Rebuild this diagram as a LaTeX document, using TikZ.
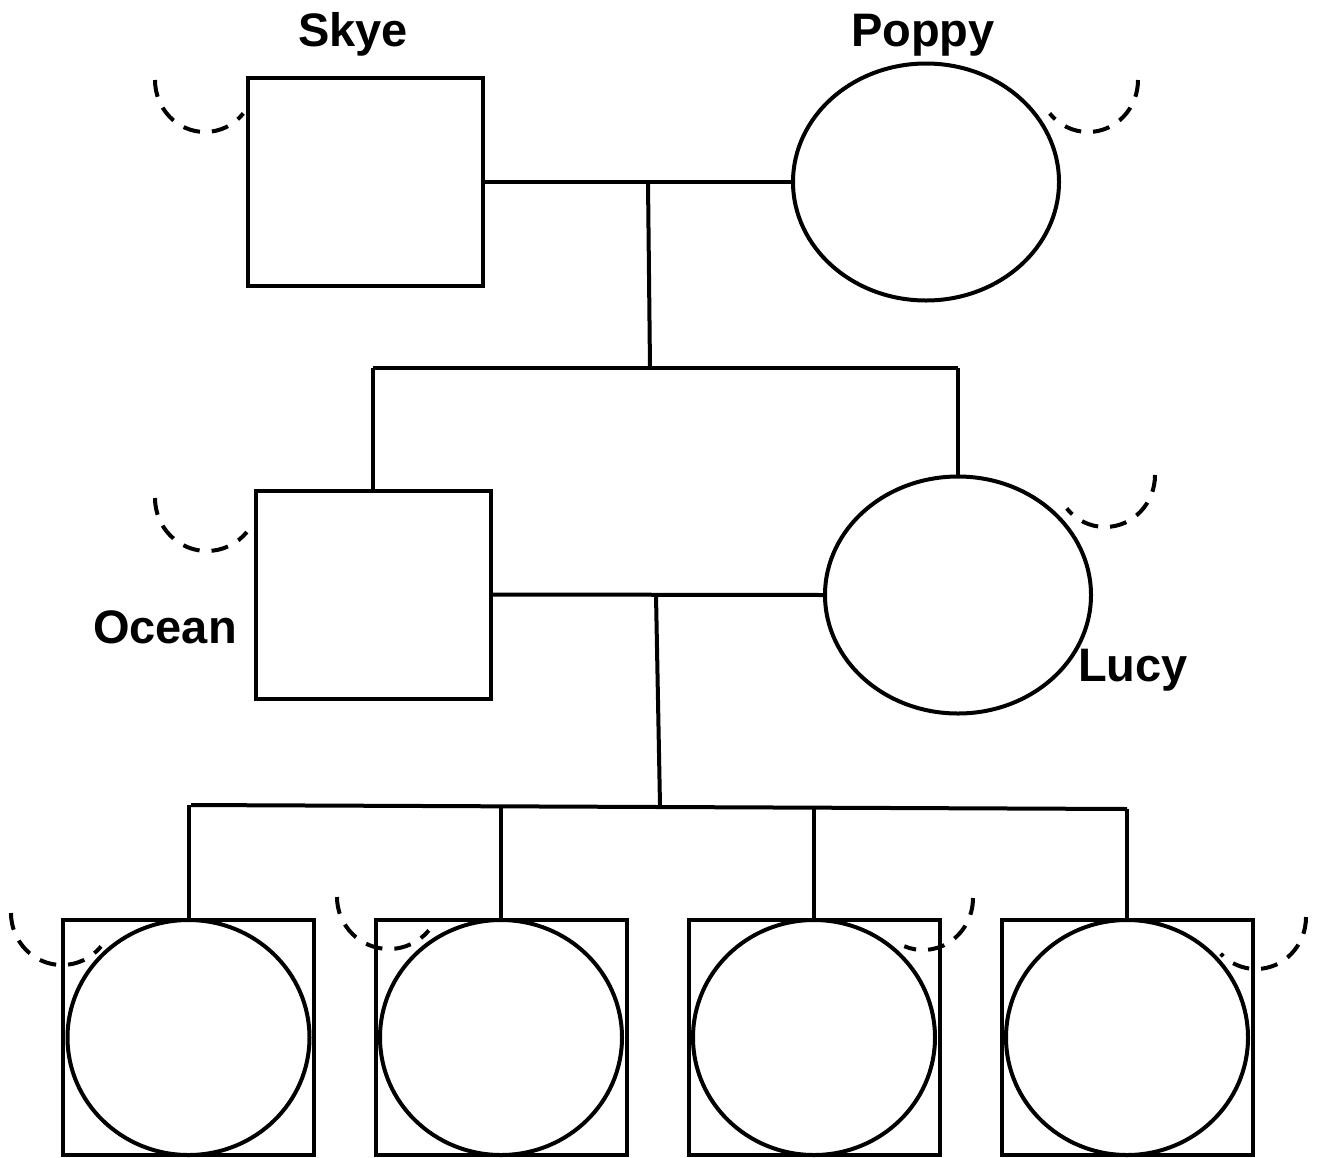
\documentclass[tikz,border=0pt]{standalone}
\usepackage{fontspec}
\setmainfont{Liberation Sans}
\usetikzlibrary{shapes.geometric}
\begin{document}
\begin{tikzpicture}[x=0.5pt,y=-0.5pt,line width=2pt,
  male/.style={draw,rectangle,inner sep=0pt,outer sep=0pt,minimum width=117.5pt,minimum height=104pt},
  female/.style={draw,ellipse,inner sep=0pt,outer sep=0pt,minimum width=133pt,minimum height=118.5pt},
  childbox/.style={draw,rectangle,inner sep=0pt,outer sep=0pt,minimum width=125.5pt,minimum height=117.5pt},
  childcirc/.style={draw,ellipse,inner sep=0pt,outer sep=0pt,minimum width=121pt,minimum height=117.5pt},
  lbl/.style={font=\fontsize{23.5}{28}\selectfont\bfseries,inner sep=0pt,anchor=base},
  rel/.style={line width=2pt,dash pattern=on 8.5pt off 6pt}]
\useasboundingbox (0,0) rectangle (1317,1157);
% generation 1
\node[male] (skye) at (365.5,182) {};
\node[female] (poppy) at (926,182) {};
\node[lbl] (skyeL) at (353,46) {Skye};
\node[lbl] (poppyL) at (923,46) {Poppy};
\draw (skye.east) -- (poppy.west);
\coordinate (m1) at (648,182);
\coordinate (d1) at (650,368);
\draw (m1) -- (d1);
% generation 2
\node[male] (ocean) at (373,594.5) {};
\node[female] (lucy) at (958,595) {};
\node[lbl] (oceanL) at (165,643) {Ocean};
\node[lbl] (lucyL) at (1133,681) {Lucy};
\coordinate (s1l) at (ocean.north |- d1);
\coordinate (s1r) at (lucy.north |- d1);
\draw (s1l) -- (s1r);
\draw (s1l) -- (ocean.north);
\draw (s1r) -- (lucy.north);
\draw (ocean.east) -- (lucy.west);
\coordinate (m2) at (656,595);
\coordinate (d2) at (660,806);
\draw (m2) -- (d2);
% generation 3
\foreach \i/\x in {1/188.5,2/501,3/814,4/1127}{
  \node[childbox] (cb\i) at (\x,1037.5) {};
  \node[childcirc] (cc\i) at (\x,1037.5) {};
}
\coordinate (s2l) at (191,805);
\coordinate (s2r) at (1127,809);
\draw (s2l) -- (s2r);
\draw (cb1.north |- s2l) -- (cb1.north);
\draw (cb2.north |- 0,806) -- (cb2.north);
\draw (cb3.north |- 0,808) -- (cb3.north);
\draw (cb4.north |- s2r) -- (cb4.north);
% relationship arcs
\draw[rel] (155,80) arc[start angle=180,end angle=40,x radius=50,y radius=52];
\draw[rel] (1138,80) arc[start angle=0,end angle=140,x radius=50,y radius=52];
\draw[rel] (155,498) arc[start angle=180,end angle=40,x radius=52,y radius=53];
\draw[rel] (1155,475) arc[start angle=0,end angle=140,x radius=50,y radius=52];
\draw[rel] (11,913) arc[start angle=180,end angle=40,x radius=51,y radius=52];
\draw[rel] (337,897) arc[start angle=180,end angle=40,x radius=52,y radius=52];
\draw[rel] (973,898) arc[start angle=0,end angle=112,x radius=50,y radius=52];
\draw[rel] (1306,917) arc[start angle=0,end angle=135,x radius=50,y radius=52];
\end{tikzpicture}
\end{document}
